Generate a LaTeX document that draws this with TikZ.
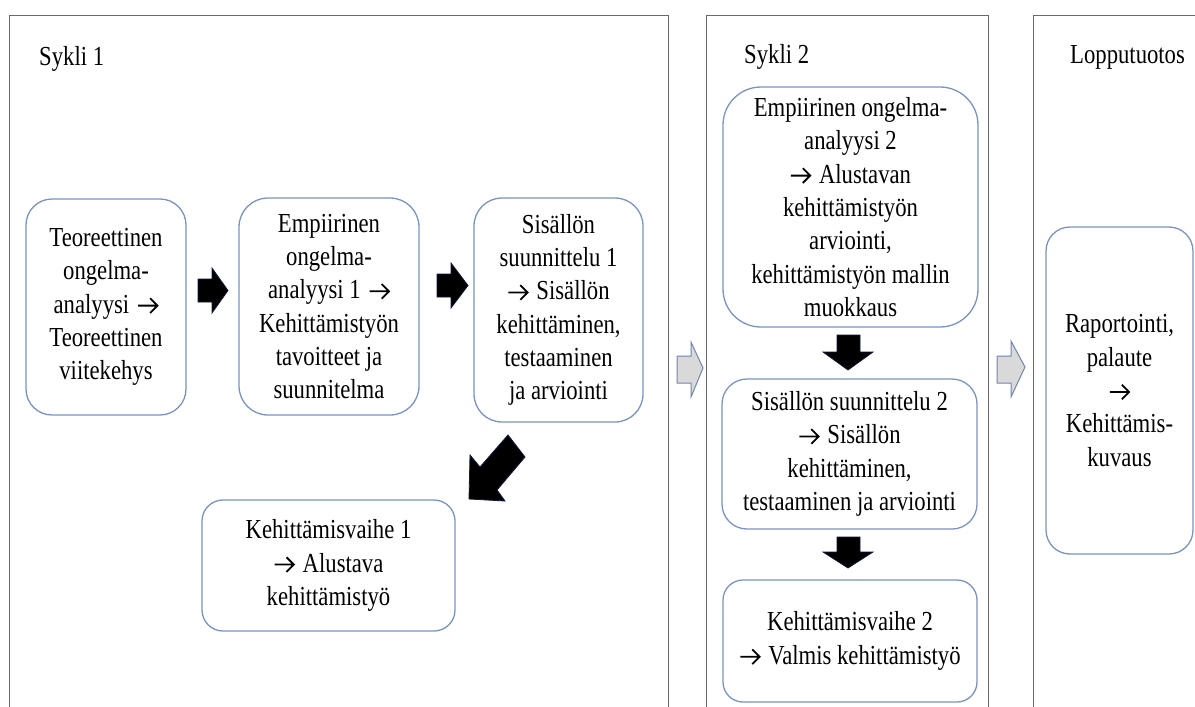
\documentclass[tikz,border=0pt]{standalone}
\usepackage{fontspec}
\setmainfont{Liberation Serif}[FakeStretch=0.825]
\definecolor{boxblue}{RGB}{122,146,196}
\definecolor{framegray}{RGB}{105,105,105}
\definecolor{arrgray}{RGB}{217,217,217}
\definecolor{arredge}{RGB}{112,132,182}
\definecolor{blkedge}{RGB}{15,25,60}
\newcommand\txtfont{\fontsize{27.5}{33.3}\selectfont}
\newcommand\rarr{\tikz[baseline=0pt, x=1pt, y=1pt]
  \draw[draw=black, line width=1.8pt, sharp corners, line cap=butt, line join=miter]
  (0,7.5) -- (19,7.5) (12,14.8) -- (19.3,7.5) -- (12,0.2);}
\newcommand\rarrsp{\rarr\hspace{8pt}}
\tikzset{
  box/.style={draw=boxblue, line width=1.3pt, fill=white, align=center, inner sep=0pt, font=\txtfont},
  framebox/.style={draw=framegray, line width=1.2pt, anchor=north west, inner sep=0pt},
  blk/.style={fill=black, draw=blkedge, line width=0.8pt, line join=miter},
  gry/.style={fill=arrgray, draw=arredge, line width=1pt, line join=miter},
  title/.style={anchor=base west, inner sep=0pt, font=\txtfont}
}
\begin{document}
\begin{tikzpicture}[x=1pt, y=-1pt]
\useasboundingbox (0,0) rectangle (1195,707);
\clip (0,0) rectangle (1195,707);
\fill[white] (0,0) rectangle (1195,707);

% frames
\node[framebox, minimum width=659pt, minimum height=740pt] (f1) at (9,15) {};
\node[framebox, minimum width=282pt, minimum height=740pt] (f2) at (706,15) {};
\node[framebox, minimum width=200pt, minimum height=740pt] (f3) at (1033,15) {};

% titles
\node[title] (t1) at (39,65) {Sykli 1};
\node[title] (t2) at (744,63) {Sykli 2};
\node[title] (t3) at (1070,63) {Lopputuotos};

% boxes
\node[box, minimum width=160pt, minimum height=216pt, rounded corners=26pt] (a) at (106,307)
  {Teoreettinen\\ongelma-\\analyysi\hspace{8pt}\rarr\\Teoreettinen\\viitekehys};
\node[box, minimum width=180pt, minimum height=217pt, rounded corners=29pt] (b) at (329,306.5)
  {Empiirinen\\ongelma-\\analyysi 1\hspace{8pt}\rarr\\Kehittämistyön\\tavoitteet ja\\suunnitelma};
\node[box, minimum width=169pt, minimum height=224pt, rounded corners=28pt] (c) at (558.5,310)
  {Sisällön\\suunnittelu 1\\\rarrsp Sisällön\\kehittäminen,\\testaaminen\\ja arviointi};
\node[box, minimum width=253pt, minimum height=131pt, rounded corners=21pt] (d) at (328.5,565.5)
  {Kehittämisvaihe 1\\\rarrsp Alustava\\kehittämistyö};
\node[box, minimum width=255pt, minimum height=240pt, rounded corners=38pt] (e) at (850.5,207)
  {Empiirinen ongelma-\\analyysi 2\\\rarrsp Alustavan\\kehittämistyön\\arviointi,\\kehittämistyön mallin\\muokkaus};
\node[box, minimum width=255pt, minimum height=150pt, rounded corners=25pt] (f) at (849.5,454)
  {Sisällön suunnittelu 2\\\rarrsp Sisällön\\kehittäminen,\\testaaminen ja arviointi};
\node[box, minimum width=254pt, minimum height=122pt, rounded corners=20pt] (g) at (850,641)
  {Kehittämisvaihe 2\\\rarrsp Valmis kehittämistyö};
\node[box, minimum width=147pt, minimum height=327pt, rounded corners=24pt] (h) at (1119.5,390.5)
  {Raportointi,\\palaute\\\rarr\\Kehittämis-\\kuvaus};

% black block arrows (a->b, b->c)
\draw[blk] (198,279) -- (212,279) -- (212,268) -- (228,290.5) -- (212,313) -- (212,302) -- (198,302) -- cycle;
\draw[blk] (437,274) -- (451,274) -- (451,263) -- (468,285.5) -- (451,308) -- (451,297) -- (437,297) -- cycle;
% c -> d diagonal
\draw[blk] (508,435) -- (525,457) -- (497,490) -- (505,501) -- (469,499) -- (470,455) -- (480,467) -- cycle;
% e -> f, f -> g
\draw[blk] (837,335) -- (860,335) -- (860,352) -- (873,352) -- (848,370) -- (823,352) -- (837,352) -- cycle;
\draw[blk] (837,537) -- (860,537) -- (860,552) -- (873,552) -- (848,568) -- (823,552) -- (837,552) -- cycle;

% gray arrows between frames
\draw[gry] (677,356) -- (691,356) -- (691,342) -- (703,368) -- (691,397) -- (691,383) -- (677,383) -- cycle;
\draw[gry] (997,356) -- (1011,356) -- (1011,341) -- (1025,367) -- (1011,397) -- (1011,383) -- (997,383) -- cycle;
\end{tikzpicture}
\end{document}
